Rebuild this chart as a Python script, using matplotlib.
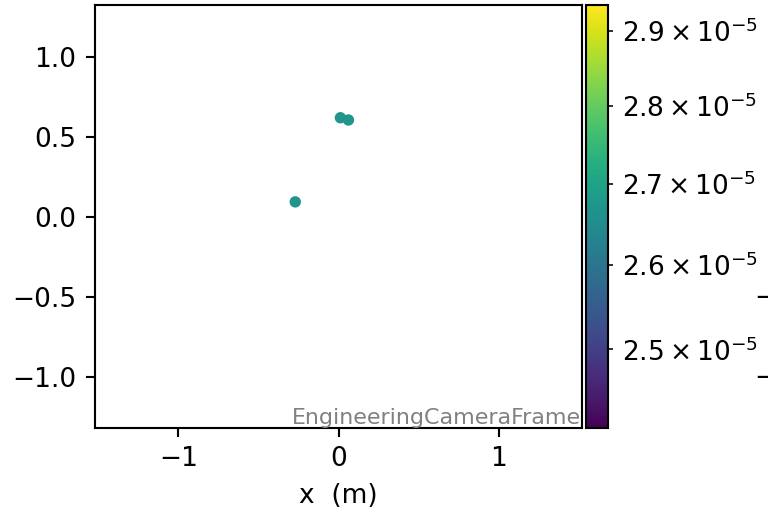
import matplotlib
matplotlib.use("Agg")
import matplotlib.pyplot as plt
from matplotlib.colors import LogNorm

# data
x_vals = [0.012, 0.062, -0.27]
y_vals = [0.62, 0.606, 0.094]
c_vals = [2.67e-5, 2.67e-5, 2.67e-5]
c_min = 2.41e-5
c_max = 2.935e-5
frame_name = "EngineeringCameraFrame"

DPI = 190
fig = plt.figure(figsize=(768 / DPI, 513 / DPI), dpi=DPI)
ax = fig.add_axes([95 / 768, 85 / 513, 487 / 768, 423 / 513])
cax = fig.add_axes([586 / 768, 85 / 513, 22 / 768, 423 / 513])

norm = LogNorm(vmin=c_min, vmax=c_max)
sc = ax.scatter(x_vals, y_vals, c=c_vals, cmap="viridis", norm=norm, s=11)
ax.set_xlim(-1.52, 1.52)
ax.set_ylim(-1.32, 1.325)
ax.set_xlabel("x  (m)")
ax.text(0.998, 0.0, frame_name, transform=ax.transAxes, ha="right", va="bottom",
        fontsize=8.4, color="gray")

cb = fig.colorbar(sc, cax=cax)

# clipped tick labels of a neighbouring panel at the right edge
fig.text(754 / 768, 1 - 298 / 513, "\u2212", fontsize=10, ha="left", va="center")
fig.text(754 / 768, 1 - 378 / 513, "\u2212", fontsize=10, ha="left", va="center")

fig.savefig("out.png", dpi=DPI)
